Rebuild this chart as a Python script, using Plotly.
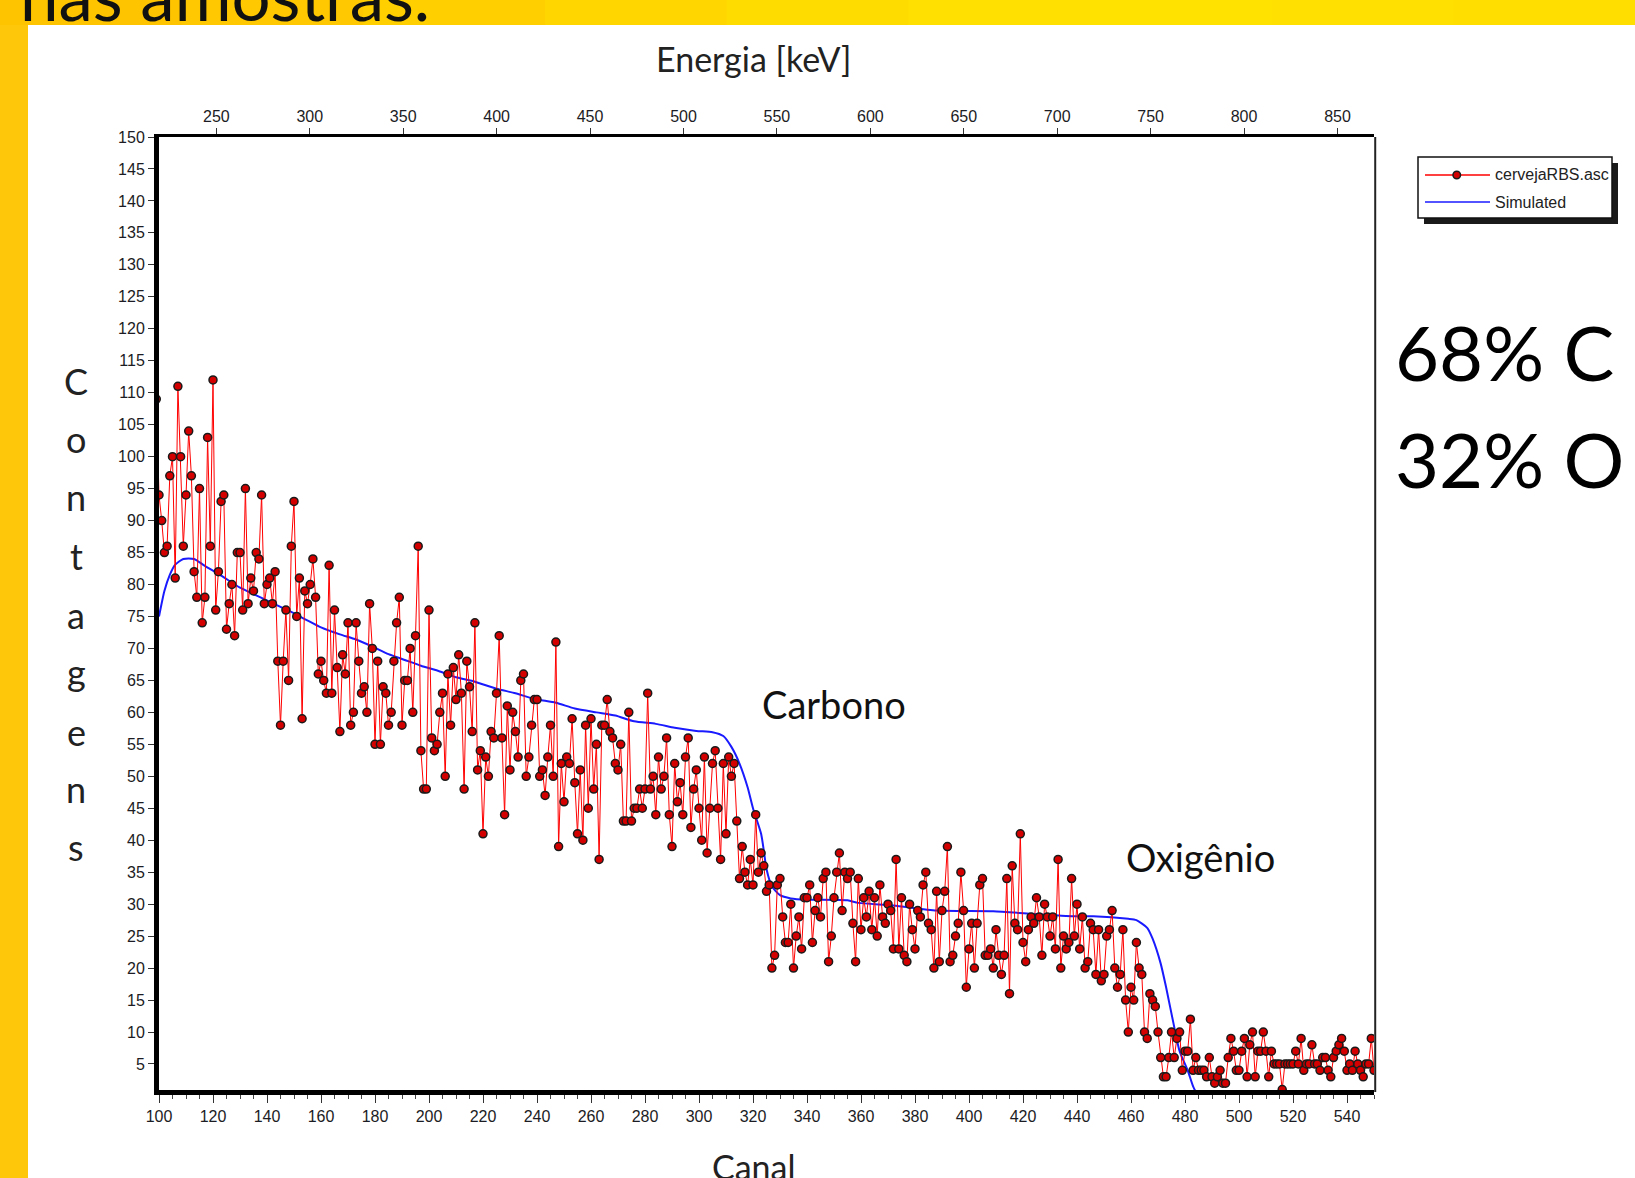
import plotly.graph_objects as go

# ---------------------------------------------------------------- data ----
# RBS spectrum of the beer sample: counts per channel, starting at channel 99
FIRST_CHANNEL = 99
counts = [
    109, 94, 90, 85, 86, 97, 100, 81, 111, 100, 86, 94, 104, 97, 82, 78, 95, 74, 78, 103,
    86, 112, 76, 82, 93, 94, 73, 77, 80, 72, 85, 85, 76, 95, 77, 81, 79, 85, 84, 94,
    77, 80, 81, 77, 82, 68, 58, 68, 76, 65, 86, 93, 75, 81, 59, 79, 77, 80, 84, 78,
    66, 68, 65, 63, 83, 63, 76, 67, 57, 69, 66, 74, 58, 60, 74, 68, 63, 64, 60, 77,
    70, 55, 68, 55, 64, 63, 58, 60, 68, 74, 78, 58, 65, 65, 70, 60, 72, 86, 54, 48,
    48, 76, 56, 54, 55, 60, 63, 50, 66, 58, 67, 62, 69, 63, 48,
    68, 64, 57, 74, 51, 54, 41, 53, 50, 57, 56, 63, 72, 56, 44, 61, 51, 60, 57, 53,
    65, 66, 50, 53, 58, 62, 62, 50, 51, 47, 53, 58, 50, 71, 39, 52, 46, 53, 52, 59,
    49, 41, 51, 40, 58, 45, 59, 48, 55, 37, 58, 58, 62, 57, 56, 52, 51, 55, 43, 43,
    60, 43, 45, 45, 48, 45, 48, 63, 48, 50, 44, 53, 48, 50, 56, 44, 39, 52, 46, 49,
    44, 53, 56, 42, 48, 51, 45, 40, 53, 38, 45, 52, 54, 45, 37, 52, 41, 53, 50, 52,
    43, 34, 39, 35, 33, 37, 33, 44, 35, 38, 36, 32,
    33, 20, 22, 33, 34, 28, 24, 24, 30, 20, 25, 28, 23, 31, 31, 33, 24, 29, 31, 28,
    34, 35, 21, 25, 31, 35, 38, 29, 35, 34, 35, 27, 21, 34, 26, 31, 28, 32, 26, 31,
    25, 33, 28, 27, 30, 29, 23, 37, 23, 31, 22, 21, 30, 26, 23, 29, 28, 33, 35, 27,
    26, 20, 32, 21, 29, 32, 39, 21, 22, 25, 27, 35, 29, 17, 23, 27, 20, 27, 33, 34,
    22, 22, 23, 20, 26, 22, 19, 22, 34, 16, 36, 27, 26, 41, 24, 21, 26, 28, 27, 31,
    28, 22, 30, 28, 25, 28, 23, 37, 20, 25, 23, 24, 34, 25,
    30, 23, 28, 20, 21, 27, 26, 19, 26, 18, 19, 25, 26, 29, 20, 17, 19, 26, 15, 10,
    17, 15, 24, 20, 19, 10, 9, 16, 15, 14, 10, 6, 3, 3, 6, 10, 6, 9, 10, 4,
    7, 7, 12, 4, 6, 4, 4, 4, 3, 6, 3, 2, 3, 4, 2, 2, 6, 9, 7, 4,
    4, 7, 9, 3, 8, 10, 3, 7, 7, 10, 7, 3, 7, 5, 5, 5, 1, 5, 5, 5,
    5, 7, 5, 9, 4, 5, 5, 8, 5, 5, 4, 6, 6, 4, 3, 6, 7, 8, 9, 7,
    4, 5, 4, 7, 5, 4, 3, 5, 5, 9, 4,
]
channels = list(range(FIRST_CHANNEL, FIRST_CHANNEL + len(counts)))

# Simulated spectrum (C + O target)
sim_channels = [100, 102, 104, 106, 109, 113, 117, 123, 130, 136, 142, 148, 154, 160, 167,
                173, 179, 185, 191, 197, 204, 210, 217, 225, 232, 239, 247, 254, 262, 269,
                276, 284, 291, 299, 305, 309, 312, 315, 318, 320, 323, 324, 325, 327, 330,
                334, 340, 355, 359, 372, 388, 409, 423, 439, 446, 459, 462, 466, 468, 471,
                473, 476, 478, 481, 483, 486]
sim_counts = [75.0, 79.0, 81.5, 83.1, 84.0, 84.0, 82.9, 81.4, 79.5, 78.3, 77.1, 75.9, 74.6,
              73.3, 72.2, 71.4, 70.3, 69.1, 68.2, 67.3, 66.4, 65.5, 64.8, 63.7, 63.0, 62.1,
              61.5, 60.6, 60.0, 59.5, 58.6, 58.2, 57.6, 57.1, 56.9, 56.3, 54.6, 52.0, 48.3,
              45.0, 41.0, 38.4, 35.5, 32.8, 31.4, 30.9, 30.7, 30.6, 30.2, 29.8, 29.0, 28.9,
              28.5, 28.1, 28.1, 27.7, 27.5, 26.3, 24.6, 20.7, 17.0, 10.8, 7.0, 4.0, 1.5, -1.0]

series_names = ["cervejaRBS.asc", "Simulated"]

channel_ticks = list(range(100, 541, 20))
channel_minor_ticks = list(range(100, 551, 5))
energy_ticks = list(range(250, 851, 50))
count_ticks = list(range(5, 151, 5))

# energy calibration of the detector
ENERGY_OFFSET = 219.3   # keV at channel 100
ENERGY_GAIN = 1.445     # keV per channel

CH_MIN, CH_MAX = 100, 550
Y_MIN, Y_MAX = 0.93, 150

edge_labels = [("Carbono", 350, 61.3), ("Oxigênio", 485.6, 37.4)]
composition = ["68% C", "32% O"]
y_title = "Contagens"

# ---------------------------------------------------------- geometry ----
W, H = 1635, 1178
PL, PR, PT, PB = 159, 1374, 137, 1090


def px(x):
    return (x - PL) / (PR - PL)


def py(y):
    return (PB - y) / (PB - PT)


def energy(ch):
    return ENERGY_OFFSET + ENERGY_GAIN * (ch - 100)


SLIDE_FONT = "Lato, 'Open Sans', sans-serif"
PLOT_FONT = "'Liberation Sans', Arial, sans-serif"
TICK_FONT = dict(family=PLOT_FONT, size=16, color="#1c1c24")

fig = go.Figure()

fig.add_trace(go.Scatter(
    x=sim_channels, y=sim_counts, name=series_names[1], mode="lines",
    line=dict(color="#1a1aff", width=2, shape="spline", smoothing=0.6),
    showlegend=False, hoverinfo="skip",
))
fig.add_trace(go.Scatter(
    x=channels, y=counts, name=series_names[0], mode="lines+markers",
    line=dict(color="#ff0000", width=1),
    marker=dict(size=8, color="#d40000", line=dict(color="#1a1a1a", width=1.5)),
    showlegend=False, cliponaxis=True,
))
# carrier for the energy axis on top
fig.add_trace(go.Scatter(
    x=[energy(CH_MIN), energy(CH_MAX)], y=[Y_MIN, Y_MIN], xaxis="x2", mode="markers",
    marker=dict(opacity=0), showlegend=False, hoverinfo="skip",
))

shapes = []
# slide background: orange-yellow bands and white content panel
top_band_colors = ["#ffc400", "#ffc800", "#ffcf00", "#ffd600", "#ffdc00", "#ffe000",
                   "#ffe200", "#ffe000", "#ffde00"]
band_w = W / len(top_band_colors)
for i, col in enumerate(top_band_colors):
    shapes.append(dict(type="rect", xref="paper", yref="paper", layer="below",
                       x0=px(i * band_w), x1=px((i + 1) * band_w + 1), y0=py(25), y1=py(-5),
                       fillcolor=col, line=dict(width=0)))
shapes.append(dict(type="rect", xref="paper", yref="paper", layer="below",
                   x0=px(-5), x1=px(28), y0=py(H + 5), y1=py(25),
                   fillcolor="#ffc70a", line=dict(width=0)))
shapes.append(dict(type="rect", xref="paper", yref="paper", layer="below",
                   x0=px(28), x1=px(W + 5), y0=py(H + 5), y1=py(25),
                   fillcolor="white", line=dict(width=0)))
# right frame line
shapes.append(dict(type="line", xref="paper", yref="paper", x0=1.001, x1=1.001,
                   y0=-0.002, y1=1.0, line=dict(color="#222", width=2)))

# legend box with drop shadow
LX0, LX1, LY0, LY1 = 1418, 1612, 157, 218
shapes.append(dict(type="rect", xref="paper", yref="paper",
                   x0=px(LX0 + 6), x1=px(LX1 + 6), y0=py(LY1 + 6), y1=py(LY0 + 6),
                   fillcolor="#1a1a1a", line=dict(width=0)))
shapes.append(dict(type="rect", xref="paper", yref="paper",
                   x0=px(LX0), x1=px(LX1), y0=py(LY1), y1=py(LY0),
                   fillcolor="white", line=dict(color="#111", width=1.5)))
shapes.append(dict(type="line", xref="paper", yref="paper",
                   x0=px(1425), x1=px(1490), y0=py(175), y1=py(175),
                   line=dict(color="#ff0000", width=1.5)))
shapes.append(dict(type="circle", xref="paper", yref="paper",
                   x0=px(1453), x1=px(1460.5), y0=py(178.8), y1=py(171.2),
                   fillcolor="#d40000", line=dict(color="#1a1a1a", width=1.5)))
shapes.append(dict(type="line", xref="paper", yref="paper",
                   x0=px(1425), x1=px(1490), y0=py(202), y1=py(202),
                   line=dict(color="#1a1aff", width=1.5)))

annotations = []
LEGEND_FONT = dict(family=PLOT_FONT, size=16, color="#222")
annotations.append(dict(xref="paper", yref="paper", x=px(1493), y=py(175),
                        xanchor="left", yanchor="middle", showarrow=False,
                        text=series_names[0], font=LEGEND_FONT))
annotations.append(dict(xref="paper", yref="paper", x=px(1493), y=py(202),
                        xanchor="left", yanchor="middle", showarrow=False,
                        text=series_names[1], font=LEGEND_FONT))

# slide heading, mostly above the visible area
annotations.append(dict(xref="paper", yref="paper", x=px(18), y=py(-5),
                        xanchor="left", yanchor="middle", showarrow=False,
                        text="nas amostras.", font=dict(family=SLIDE_FONT, size=69, color="#111")))

# axis titles
annotations.append(dict(xref="paper", yref="paper", x=px(753), y=py(58),
                        xanchor="center", yanchor="middle", showarrow=False,
                        text="Energia [keV]", font=dict(family=SLIDE_FONT, size=34, color="#222")))
annotations.append(dict(xref="paper", yref="paper", x=px(754), y=py(1166),
                        xanchor="center", yanchor="middle", showarrow=False,
                        text="Canal", font=dict(family=SLIDE_FONT, size=34, color="#222")))
letter_y = [381, 439, 497, 556, 615, 672, 732, 789, 847]
for ch, yy in zip(y_title, letter_y):
    annotations.append(dict(xref="paper", yref="paper", x=px(76), y=py(yy),
                            xanchor="center", yanchor="middle", showarrow=False,
                            text=ch, font=dict(family=SLIDE_FONT, size=36, color="#222")))

# edge labels inside the plot
for text, cx, cy in edge_labels:
    annotations.append(dict(x=cx, y=cy, xref="x", yref="y", showarrow=False,
                            text=text, font=dict(family=SLIDE_FONT, size=38, color="#111")))

# sample composition
for text, yy in zip(composition, [351, 459]):
    annotations.append(dict(xref="paper", yref="paper", x=px(1393), y=py(yy),
                            xanchor="left", yanchor="middle", showarrow=False,
                            text=text, font=dict(family=SLIDE_FONT, size=76, color="#000")))

fig.update_layout(
    width=W, height=H,
    margin=dict(l=PL, r=W - PR, t=PT, b=H - PB, pad=0),
    paper_bgcolor="#ffd200", plot_bgcolor="white",
    showlegend=False,
    shapes=shapes, annotations=annotations,
    xaxis=dict(
        range=[CH_MIN, CH_MAX], tickmode="array", tickvals=channel_ticks,
        ticktext=[str(v) for v in channel_ticks],
        ticks="outside", ticklen=8, tickwidth=1, tickcolor="#333",
        minor=dict(tickmode="array", tickvals=channel_minor_ticks, ticks="outside",
                   ticklen=4, tickwidth=1, tickcolor="#444"),
        showline=True, linewidth=5, linecolor="#000", mirror=False,
        showgrid=False, zeroline=False, tickfont=TICK_FONT,
    ),
    xaxis2=dict(
        overlaying="x", side="top", anchor="y",
        range=[energy(CH_MIN), energy(CH_MAX)], tickmode="array", tickvals=energy_ticks,
        ticktext=[str(v) for v in energy_ticks],
        ticks="outside", ticklen=6, tickwidth=1, tickcolor="#333",
        showline=True, linewidth=3, linecolor="#000",
        showgrid=False, zeroline=False, tickfont=TICK_FONT,
    ),
    yaxis=dict(
        range=[Y_MIN, Y_MAX], tickmode="array", tickvals=count_ticks,
        ticktext=[str(v) for v in count_ticks],
        ticks="outside", ticklen=6, tickwidth=1, tickcolor="#333",
        showline=True, linewidth=5, linecolor="#000",
        showgrid=False, zeroline=False, tickfont=TICK_FONT,
    ),
)

fig.write_html("out.html")
